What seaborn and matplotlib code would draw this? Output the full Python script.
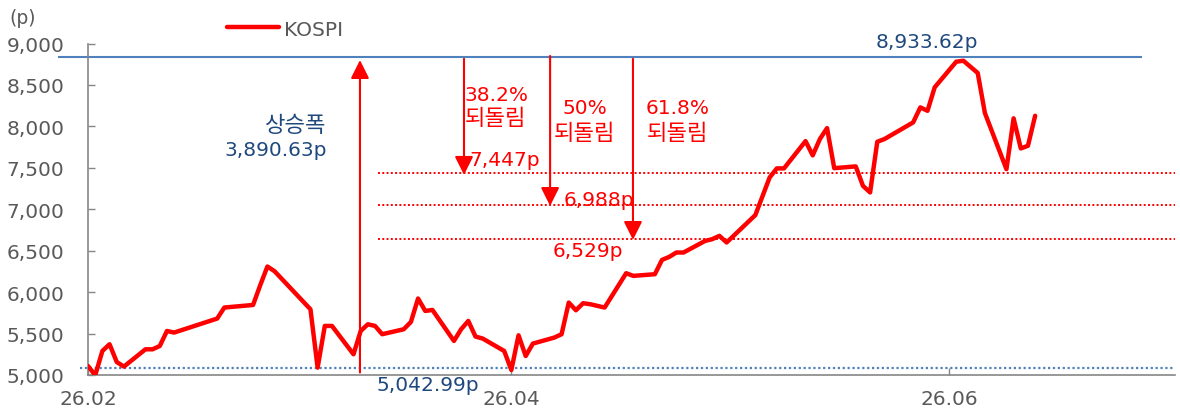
import numpy as np
import pandas as pd
import matplotlib
matplotlib.use("Agg")
import matplotlib.pyplot as plt
import matplotlib.dates as mdates
import seaborn as sns

# ---------------------------------------------------------------- data
start = pd.Timestamp("2026-02-01")
day_offset = [0, 1, 2, 3, 4, 5, 8, 9, 10, 11, 12, 18, 19, 23, 24, 25, 26,
              31, 32, 33, 34, 37, 38, 39, 40, 41, 44, 45, 46, 47, 48,
              51, 52, 53, 54, 55, 58, 59, 60, 61, 62, 65, 66, 67, 68, 69, 70,
              72, 75, 76, 79, 80, 81, 82, 83, 86, 87, 88, 89, 93, 95, 96, 97,
              100, 101, 102, 103, 104, 107, 108, 109, 110, 111, 115, 116, 117,
              118, 121, 122, 124, 125, 128, 129, 130, 131, 132]
kospi = [5109, 4996, 5290, 5371, 5157, 5101, 5310, 5310, 5350, 5531, 5512,
         5681, 5814, 5845, 6083, 6309, 6252, 5793, 5089, 5592, 5592, 5250,
         5531, 5612, 5592, 5492, 5552, 5640, 5923, 5773, 5785, 5411, 5552,
         5652, 5464, 5440, 5290, 5060, 5479, 5229, 5379, 5452, 5492, 5874,
         5781, 5866, 5854, 5814, 6228, 6196, 6216, 6389, 6425, 6478, 6478,
         6618, 6639, 6679, 6599, 6929, 7384, 7493, 7493, 7822, 7650, 7847,
         7979, 7496, 7517, 7283, 7203, 7814, 7847, 8048, 8229, 8188, 8471,
         8780, 8792, 8644, 8161, 7484, 8097, 7734, 7766, 8128]

high_line = 8840        # drawn level of the 8,933.62p high
low_line = 5090         # drawn level of the 5,042.99p low
retrace_lines = [7440, 7050, 6640]
retrace_pct = ["38.2%", "50%", "61.8%"]
retrace_word = "되돌림"
retrace_values = ["7,447p", "6,988p", "6,529p"]

xtick_days = [0, 59, 120]
xtick_labels = ["26.02", "26.04", "26.06"]
yticks = np.arange(5000, 9001, 500)

df = pd.DataFrame({"date": start + pd.to_timedelta(day_offset, unit="D"),
                   "KOSPI": kospi})

# ---------------------------------------------------------------- style
sns.set_theme(style="white")
plt.rcParams["font.family"] = ["DejaVu Sans", "Noto Sans CJK KR"]
KR = ["Noto Sans CJK KR", "DejaVu Sans"]

RED = "#FF0000"
BLUE = "#4F81BD"
NAVY = "#1F497D"
GRAY = "#595959"


def D(d):
    return mdates.date2num(start + pd.Timedelta(days=d))


fig = plt.figure(figsize=(11.8, 4.14), dpi=100)
ax = fig.add_axes([0.0746, 0.0918, 0.9212, 0.8007])

sns.lineplot(data=df, x="date", y="KOSPI", ax=ax, color=RED, lw=3.2,
             label="KOSPI", zorder=5)

ax.set_xlim(D(0), D(151.5))
ax.set_ylim(5000, 9000)

# reference lines
ax.hlines(high_line, D(-4.2), D(146.9), color=BLUE, lw=1.5, clip_on=False)
ax.hlines(low_line, D(-1.1), D(151.5), color=BLUE, lw=1.6,
          linestyles=(0, (1, 1.2)), clip_on=False)
for lvl in retrace_lines:
    ax.hlines(lvl, D(40.4), D(151.5), color=RED, lw=1.4,
              linestyles=(0, (1, 1.2)))

# arrows
arrow = dict(arrowstyle="-|>", color=RED, lw=1.5, mutation_scale=28,
             shrinkA=0, shrinkB=0)
ax.annotate("", xy=(D(37.9), 8800), xytext=(D(37.9), 5030), arrowprops=arrow)
for xd, top, tip in [(52.4, 8815, 7415), (64.4, 8850, 7040), (75.95, 8815, 6630)]:
    ax.annotate("", xy=(D(xd), tip), xytext=(D(xd), top), arrowprops=arrow)

fs = 14.5
kfs = 16
kw = "medium"
# rise annotation
ax.text(D(33.3), 8028, "상승폭", ha="right", va="center", color=NAVY,
        fontsize=kfs, family=KR, weight=kw)
ax.text(D(33.3), 7726, "3,890.63p", ha="right", va="center", color=NAVY,
        fontsize=fs)
ax.text(D(40.25), 4888, "5,042.99p", ha="left", va="center",
        color=NAVY, fontsize=fs)
ax.text(D(116.9), 9030, "8,933.62p", ha="center", va="center",
        color=NAVY, fontsize=fs)

# retracement labels
ax.text(D(52.5), 8390, retrace_pct[0], ha="left", va="center", color=RED,
        fontsize=fs)
ax.text(D(52.5), 8112, retrace_word, ha="left", va="center", color=RED,
        fontsize=kfs, family=KR, weight=kw)
for xd, pct in [(69.2, retrace_pct[1]), (82.2, retrace_pct[2])]:
    ax.text(D(xd), 8233, pct, ha="center", va="center", color=RED,
            fontsize=fs)
    ax.text(D(xd), 7931, retrace_word, ha="center", va="center", color=RED,
            fontsize=kfs, family=KR, weight=kw)
ax.text(D(53.2), 7605, retrace_values[0], ha="left", va="center",
        color=RED, fontsize=fs)
ax.text(D(66.3), 7122, retrace_values[1], ha="left", va="center",
        color=RED, fontsize=fs)
ax.text(D(64.8), 6506, retrace_values[2], ha="left", va="center",
        color=RED, fontsize=fs)

# axes
ax.set_xticks([D(d) for d in xtick_days])
ax.set_xticklabels(xtick_labels)
ax.set_yticks(yticks)
ax.set_yticklabels([f"{v:,}" for v in yticks])
ax.set_xlabel("")
ax.set_ylabel("")
ax.tick_params(axis="y", direction="in", length=5, width=1, color="#868686",
               labelsize=14.5, labelcolor=GRAY, pad=17, left=True)
ax.tick_params(axis="x", direction="in", length=5, width=1, color="#868686",
               labelsize=14.5, labelcolor=GRAY, pad=10, bottom=True)
for side in ["top", "right"]:
    ax.spines[side].set_visible(False)
for side in ["left", "bottom"]:
    ax.spines[side].set_color("#868686")
    ax.spines[side].set_linewidth(1.2)

fig.text(0.008, 1 - 18 / 414, "(p)", ha="left", va="center",
         color=GRAY, fontsize=13.5)

ax.legend(loc="center left", bbox_to_anchor=(0.192, 1 - 30 / 414),
          bbox_transform=fig.transFigure, frameon=False, fontsize=14.5,
          handlelength=2.6, handletextpad=0.25, labelcolor=GRAY,
          borderaxespad=0, borderpad=0)

fig.savefig("out.png", dpi=100)
